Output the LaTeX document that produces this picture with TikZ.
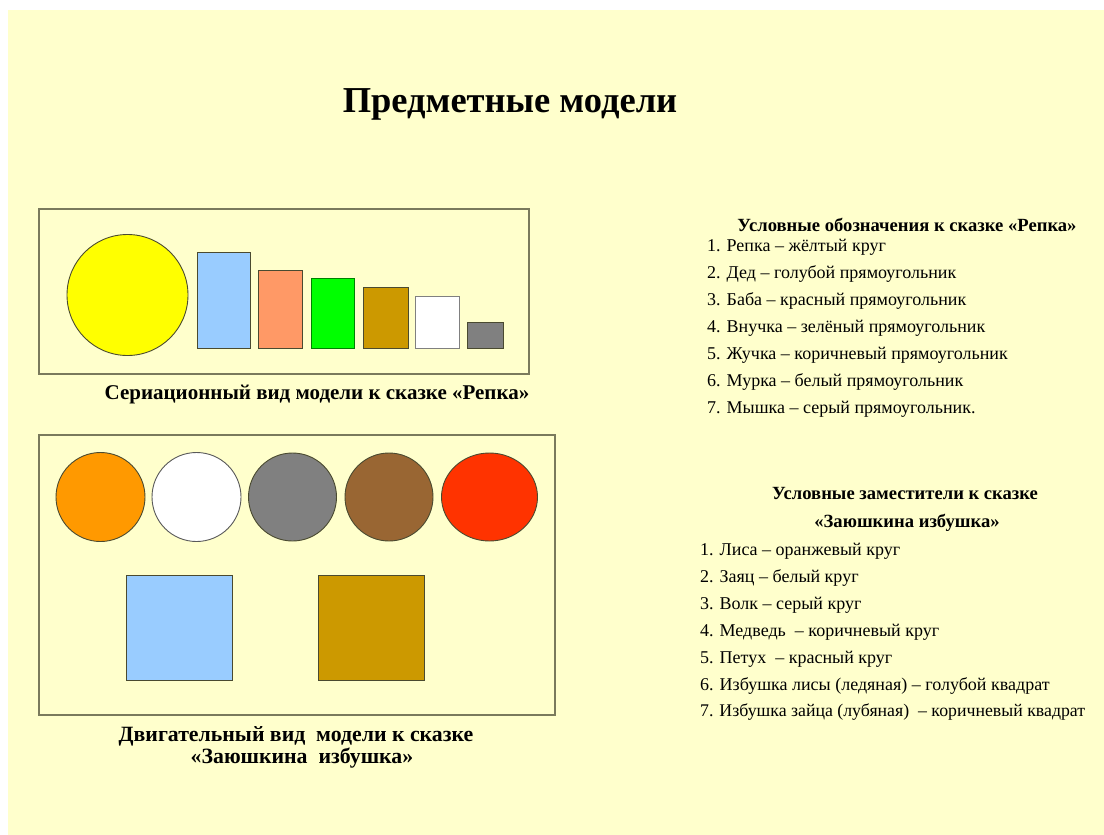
\documentclass[tikz,border=0pt]{standalone}
\usepackage{fontspec}
\setmainfont{Liberation Serif}
\usetikzlibrary{shapes.geometric}
\definecolor{bg}{HTML}{FFFFCC}
\definecolor{frame}{HTML}{7A7A5C}
\definecolor{edge}{HTML}{4A4A30}
\definecolor{cyellow}{HTML}{FFFF00}
\definecolor{cblue}{HTML}{99CCFF}
\definecolor{csalmon}{HTML}{FF9966}
\definecolor{cgreen}{HTML}{00FF00}
\definecolor{cgold}{HTML}{CC9900}
\definecolor{cgray}{HTML}{808080}
\definecolor{corange}{HTML}{FF9900}
\definecolor{cbrown}{HTML}{996633}
\definecolor{cred}{HTML}{FF3300}
\begin{document}
\begin{tikzpicture}[x=1pt,y=-1pt,
  panel/.style={draw=frame,line width=1.4pt},
  bar/.style={draw=edge,line width=0.9pt,inner sep=0pt,outer sep=0pt,anchor=south west},
  disc/.style={draw=edge,line width=0.9pt,inner sep=0pt,outer sep=0pt,circle},
  oval/.style={draw=edge,line width=0.9pt,inner sep=0pt,outer sep=0pt,ellipse},
  item/.style={anchor=base west,inner sep=0pt,font=\fontsize{18}{20}\selectfont},
  head/.style={anchor=base,inner sep=0pt,font=\bfseries\fontsize{18.6}{20}\selectfont},
  captext/.style={anchor=base,inner sep=0pt,font=\bfseries\fontsize{21}{24}\selectfont}]
\useasboundingbox (0,0) rectangle (1104,835);
\fill[white] (0,0) rectangle (1104,835);
\fill[bg] (8,10) rectangle (1104,835);
% title
\node[anchor=base,inner sep=0pt,font=\bfseries\fontsize{36.5}{42}\selectfont] (title) at (510,112) {Предметные модели};
% top panel
\draw[panel] (39,209) rectangle (529,374);
\node[disc,fill=cyellow,minimum size=121pt] (repka) at (127.5,295) {};
\node[bar,fill=cblue,minimum width=53pt,minimum height=96pt] (ded) at (197,348) {};
\node[bar,fill=csalmon,minimum width=44pt,minimum height=78pt] (baba) at (258,348) {};
\node[bar,fill=cgreen,draw=green!50!black,minimum width=43pt,minimum height=70pt] (vnuchka) at (311,348) {};
\node[bar,fill=cgold,minimum width=45pt,minimum height=61pt] (zhuchka) at (363,348) {};
\node[bar,fill=white,draw=gray,minimum width=44pt,minimum height=52pt] (murka) at (415,348) {};
\node[bar,fill=cgray,minimum width=36pt,minimum height=26pt] (myshka) at (467,348) {};
\node[captext] (cap1) at (317,399) {Сериационный вид модели к сказке «Репка»};
% bottom panel
\draw[panel] (39,435) rectangle (555,715);
\node[disc,fill=corange,minimum size=89pt] (lisa) at (100.5,497) {};
\node[disc,fill=white,draw=gray!70!black,minimum size=89pt] (zayac) at (196.5,497) {};
\node[disc,fill=cgray,minimum size=88pt] (volk) at (292.5,497) {};
\node[disc,fill=cbrown,minimum size=88pt] (medved) at (389,497) {};
\node[oval,fill=cred,minimum width=96pt,minimum height=88pt] (petukh) at (489.5,497) {};
\node[bar,anchor=north west,fill=cblue,minimum width=106pt,minimum height=105pt] (ledyanaya) at (126.5,575) {};
\node[bar,anchor=north west,fill=cgold,minimum width=106pt,minimum height=105pt] (lubyanaya) at (318.5,575) {};
\node[captext,font=\bfseries\fontsize{21.8}{24}\selectfont] (cap2a) at (296,741) {Двигательный вид\ \ модели к сказке};
\node[captext,font=\bfseries\fontsize{21.8}{24}\selectfont] (cap2b) at (302,763) {«Заюшкина\ \ избушка»};
% legend 1
\node[head] (h1) at (907,231) {Условные обозначения к сказке «Репка»};
\node[item] (a1) at (707,251) {1. Репка – жёлтый круг};
\node[item] (a2) at (707,278) {2. Дед – голубой прямоугольник};
\node[item] (a3) at (707,305) {3. Баба – красный прямоугольник};
\node[item] (a4) at (707,332) {4. Внучка – зелёный прямоугольник};
\node[item] (a5) at (707,359) {5. Жучка – коричневый прямоугольник};
\node[item] (a6) at (707,386) {6. Мурка – белый прямоугольник};
\node[item] (a7) at (707,413) {7. Мышка – серый прямоугольник.};
% legend 2
\node[head] (h2a) at (905,499) {Условные заместители к сказке};
\node[head] (h2b) at (907,527) {«Заюшкина избушка»};
\node[item] (b1) at (700,555) {1. Лиса – оранжевый круг};
\node[item] (b2) at (700,582) {2. Заяц – белый круг};
\node[item] (b3) at (700,609) {3. Волк – серый круг};
\node[item] (b4) at (700,636) {4. Медведь\ \ – коричневый круг};
\node[item] (b5) at (700,663) {5. Петух\ \ – красный круг};
\node[item] (b6) at (700,690) {6. Избушка лисы (ледяная) – голубой квадрат};
\node[item,font=\fontsize{17.8}{20}\selectfont] (b7) at (700,716) {7. Избушка зайца (лубяная)\ \ – коричневый квадрат};
\end{tikzpicture}
\end{document}
